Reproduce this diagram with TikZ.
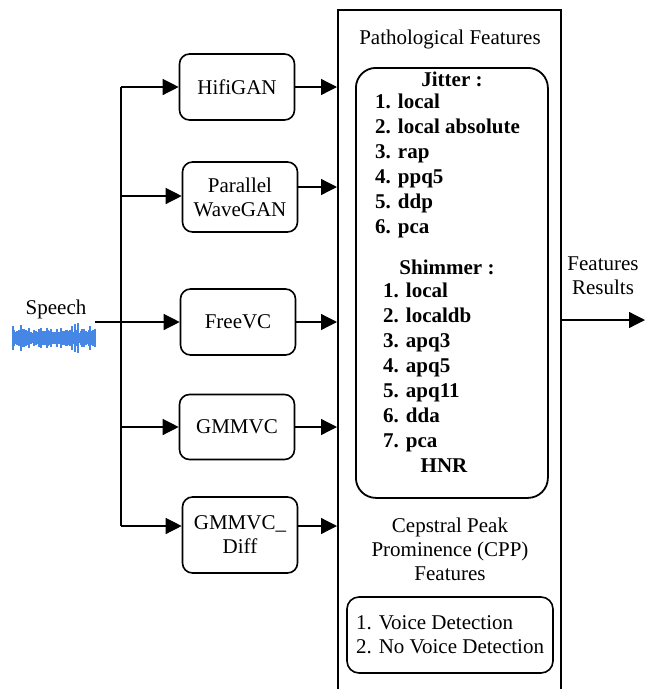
\documentclass[tikz,border=0pt]{standalone}
\usepackage{fontspec}
\setmainfont{Liberation Serif}
\usetikzlibrary{arrows.meta}
\definecolor{wavecol}{RGB}{70,135,230}

\begin{document}
\begin{tikzpicture}[x=1pt, y=-1pt,
      font=\fontsize{21}{24}\selectfont,
      vocoder/.style ={draw, rounded corners=10pt, line width=1.6pt, minimum width=115pt, inner sep=2pt, align=center},
      link/.style ={line width=1.3pt, -{Triangle[length=16pt,width=16pt]}},
      item/.style ={anchor=base west, inner sep=0pt, font=\fontsize{21}{24}\selectfont\bfseries},
      plain/.style ={inner sep=0pt, align=center}]
   \useasboundingbox (0,0) rectangle (655,689);

   % speech input
   \node[plain, anchor=base] (speech) at (56,314) {Speech};
   \pgfmathsetseed{11}
   \foreach \x in {13,...,95} {
      \pgfmathsetmacro\h{5+11*rnd*rnd}
      \draw[wavecol, line width=1.1pt] (\x,{338-\h}) -- (\x,{338+\h});
   }
   \coordinate (wave) at (95,322);

   \coordinate (b1) at (121,87);
   \coordinate (b2) at (121,196);
   \coordinate (b3) at (121,322);
   \coordinate (b4) at (121,427);
   \coordinate (b5) at (121,526);

   \node[vocoder, minimum height=66pt] (hifi)   at (237,87)  {HifiGAN};
   \node[vocoder, minimum height=70pt] (pwg)    at (240,197) {Parallel\\WaveGAN};
   \node[vocoder, minimum height=66pt] (freevc) at (238,322) {FreeVC};
   \node[vocoder, minimum height=65pt] (gmm)    at (237,427) {GMMVC};
   \node[vocoder, minimum height=76pt] (diff)   at (240,535) {GMMVC\_\\Diff};

   % feature extraction block
   \node[draw, line width=1.8pt, minimum width=223pt, minimum height=700pt, inner sep=0pt, anchor=north west] (patho) at (337,9) {};
   \node[plain, anchor=base] (pathotitle) at (450,44) {Pathological Features};
   \node[draw, rounded corners=20pt, line width=1.8pt, minimum width=192pt, minimum height=430pt, inner sep=0pt, anchor=north west] (acoustic) at (355,67) {};

   \node[item, anchor=base] (jitter) at (452,86) {Jitter :};
   \foreach \t [count=\i] in {local, local absolute, rap, ppq5, ddp, pca}
      \node[item] (jit\i) at (375,{83+25*\i}) {\i. \t};
   \node[item, anchor=base] (shimmer) at (447,274) {Shimmer :};
   \foreach \t [count=\i] in {local, localdb, apq3, apq5, apq11, dda, pca}
      \node[item] (shim\i) at (383,{272+25*\i}) {\i. \t};
   \node[item, anchor=base] (hnr) at (444,472) {HNR};

   \node[plain] (cpp) at (450,549) {Cepstral Peak\\Prominence (CPP)\\Features};
   \node[draw, rounded corners=12pt, line width=1.6pt, minimum width=206pt, minimum height=76pt, inner sep=0pt, align=left] (detect) at (450,635) {1. Voice Detection\\2. No Voice Detection};

   \node[plain] (results) at (603,276) {Features\\Results};
   \coordinate (out) at (645,320);

   \draw[line width=1.3pt] (b1) to (b5);
   \draw[line width=1.3pt] (wave) to (b3);
   \draw[link] (b1) to (hifi);
   \draw[link] (b2) to (b2 -| pwg.west);
   \draw[link] (b3) to (freevc);
   \draw[link] (b4) to (gmm);
   \draw[link] (b5) to (b5 -| diff.west);

   \coordinate (pwgout) at ([yshift=10pt]pwg.east);
   \draw[link] (hifi) to (hifi -| patho.west);
   \draw[link] (pwgout) to (pwgout -| patho.west);
   \draw[link] (freevc) to (freevc -| patho.west);
   \draw[link] (gmm) to (gmm -| patho.west);
   \draw[link] (b5 -| diff.east) to (b5 -| patho.west);

   \draw[link] (patho.east |- out) to (out);
 \end{tikzpicture}
\end{document}
